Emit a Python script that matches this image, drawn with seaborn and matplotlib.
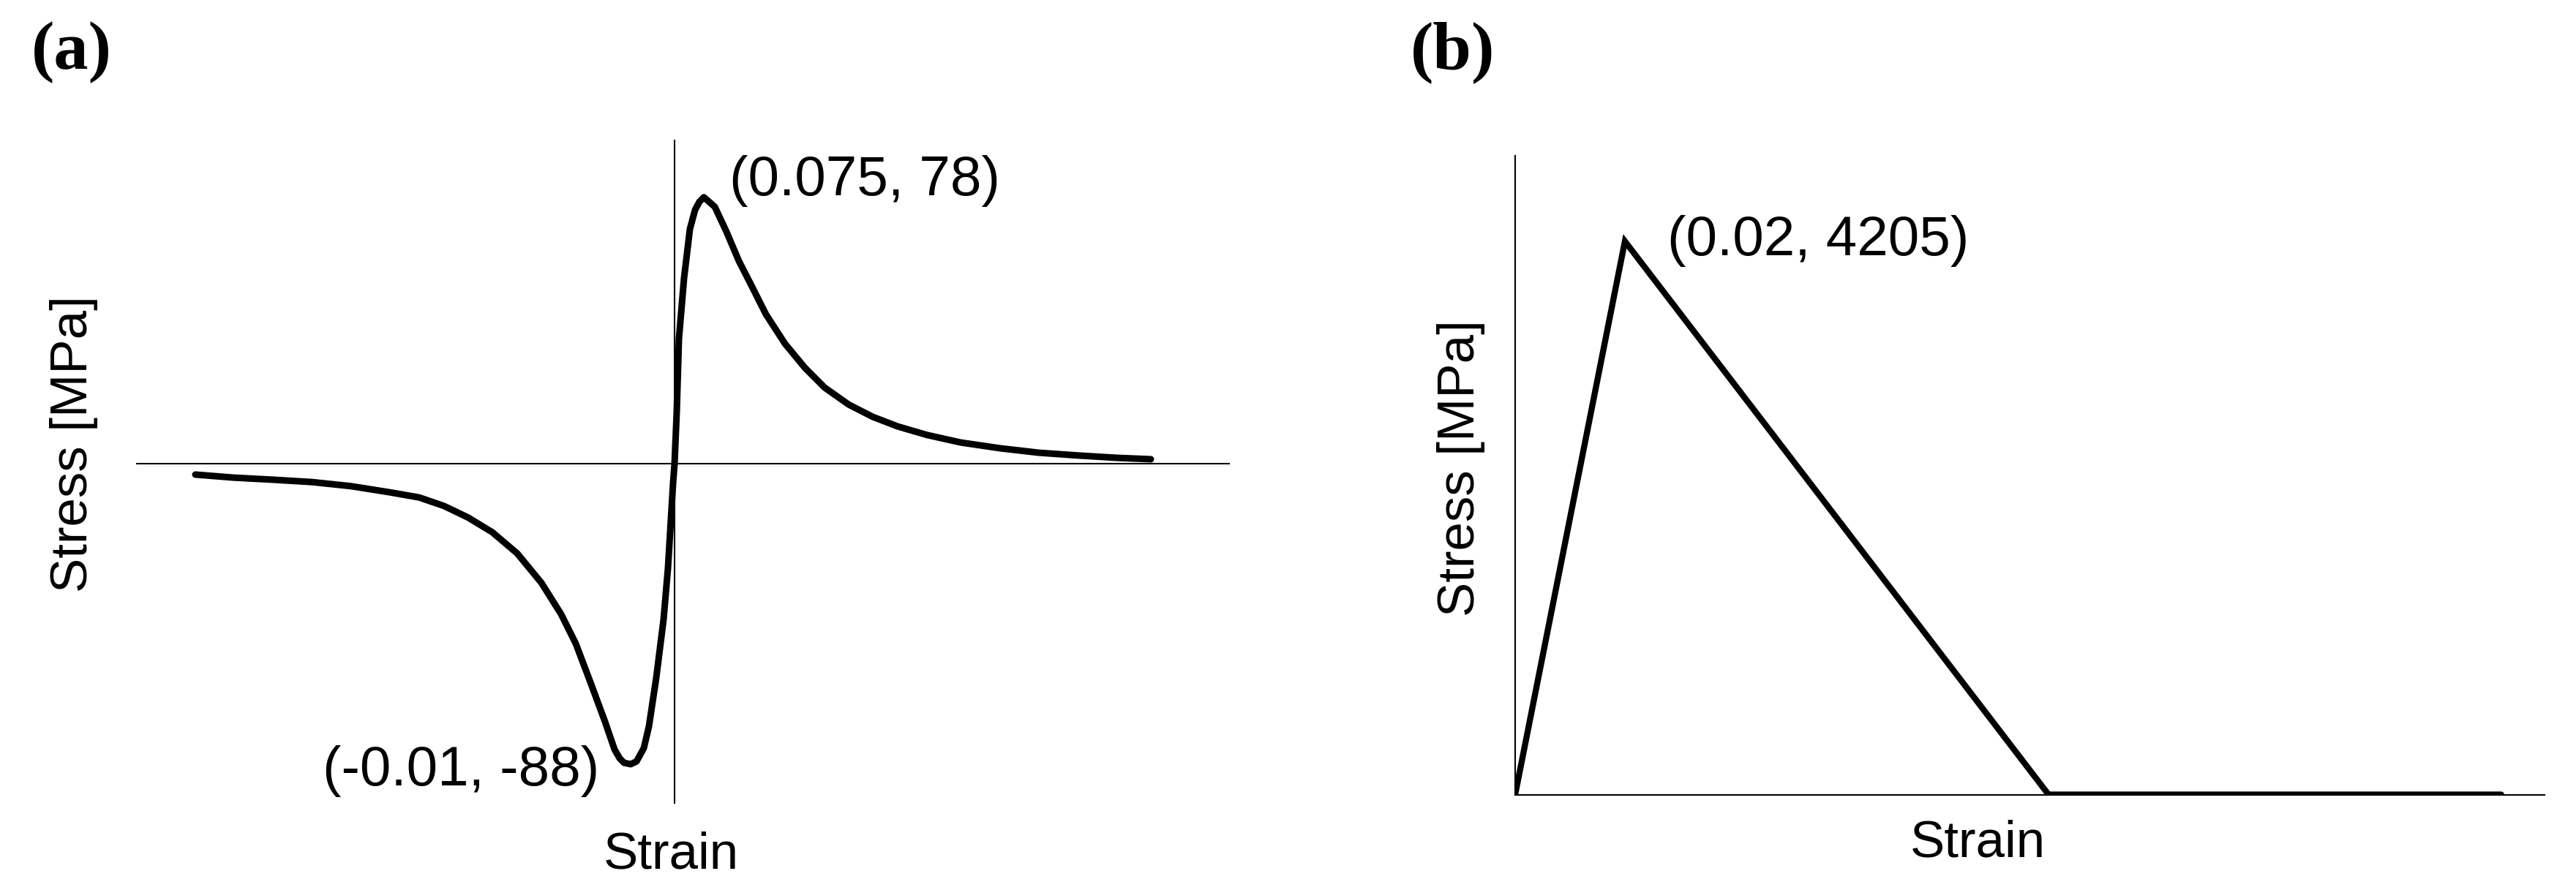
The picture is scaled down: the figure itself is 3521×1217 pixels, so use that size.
"""Curvas tensão-deformação esquemáticas: (a) sigmoide amortecida, (b) triangular."""

import matplotlib
matplotlib.use("Agg")
import matplotlib.pyplot as plt
import seaborn as sns

# (a) curva esquemática (deformação em unidades do esboço, tensão em MPa)
strain_a = [
    -0.10917, -0.10033, -0.09150, -0.08250, -0.07367, -0.06483, -0.05817,
    -0.05250, -0.04700, -0.04150, -0.03583, -0.03033, -0.02583, -0.02250,
    -0.01917, -0.01583, -0.01367, -0.01250, -0.01150, -0.01000, -0.00867,
    -0.00700, -0.00583, -0.00417, -0.00250, -0.00150, -0.00033, 0.0,
    0.00050, 0.00100, 0.00217, 0.00350, 0.00467, 0.00567, 0.00667, 0.00767,
    0.00917, 0.01183, 0.01467, 0.01750, 0.02083, 0.02517, 0.02967, 0.03417,
    0.03967, 0.04517, 0.05083, 0.05750, 0.06517, 0.07417, 0.08300, 0.09183,
    0.10083, 0.10850,
]
stress_a = [
    -3.2, -4.1, -4.7, -5.4, -6.6, -8.4, -9.9,
    -12.4, -15.8, -20.1, -26.3, -34.9, -44.1, -52.7,
    -64.0, -75.6, -83.7, -86.3, -87.6, -88.0, -87.2,
    -83.3, -76.9, -62.7, -45.6, -30.6, -5.6, 0.0,
    15.2, 36.6, 54.4, 68.7, 74.3, 76.7, 78.0, 76.9,
    75.2, 67.9, 59.3, 52.2, 43.7, 35.1, 28.1, 22.3,
    17.3, 13.7, 10.9, 8.4, 6.2, 4.5, 3.2, 2.4,
    1.7, 1.3,
]
peak_label_a = "(0.075, 78)"
trough_label_a = "(-0.01, -88)"

# (b) lei triangular
strain_b = [0.0, 0.02, 0.0972, 0.1797]
stress_b = [0.0, 4205.0, 0.0, 0.0]
peak_label_b = "(0.02, 4205)"

x_label = "Strain"
y_label = "Stress [MPa]"
panel_labels = ["(a)", "(b)"]

sns.set_style("white")
plt.rcParams["font.family"] = ["Liberation Sans", "DejaVu Sans"]
plt.rcParams["text.color"] = "black"

W, H = 3521, 1217
fig = plt.figure(figsize=(W / 100, H / 100), dpi=100)


def fx(px):
    return px / W


def fy(py):
    return 1 - py / H


# ---------------- painel (a) ----------------
ax_a = fig.add_axes([fx(187), fy(1098), fx(1680) - fx(187), fy(192) - fy(1098)])
sns.lineplot(x=strain_a, y=stress_a, ax=ax_a, color="black", linewidth=6.5,
             sort=False, estimator=None)
ax_a.set_xlim(-0.1225, 0.12633)
ax_a.set_ylim(-99.36, 94.65)
for side in ["top", "right"]:
    ax_a.spines[side].set_visible(False)
for side in ["left", "bottom"]:
    ax_a.spines[side].set_position(("data", 0))
    ax_a.spines[side].set_color("black")
    ax_a.spines[side].set_linewidth(1.5)
ax_a.set_xticks([])
ax_a.set_yticks([])
ax_a.set_xlabel("")
ax_a.set_ylabel("")
ax_a.text(0.0125, 82.7, peak_label_a, fontsize=55, ha="left", va="center")
ax_a.text(-0.01717, -90.1, trough_label_a, fontsize=55, ha="right", va="center")

# ---------------- painel (b) ----------------
ax_b = fig.add_axes([fx(2071), fy(1086.5), fx(3478) - fx(2071), fy(213) - fy(1086.5)])
sns.lineplot(x=strain_b, y=stress_b, ax=ax_b, color="black", linewidth=6.0,
             sort=False, estimator=None, solid_joinstyle="miter")
ax_b.set_xlim(0, 0.1876)
ax_b.set_ylim(0, 4855)
for side in ["top", "right"]:
    ax_b.spines[side].set_visible(False)
for side in ["left", "bottom"]:
    ax_b.spines[side].set_color("black")
    ax_b.spines[side].set_linewidth(1.5)
ax_b.set_xticks([])
ax_b.set_yticks([])
ax_b.set_xlabel("")
ax_b.set_ylabel("")
ax_b.text(0.02773, 4205, peak_label_b, fontsize=55, ha="left", va="center")

# rótulos dos eixos
fig.text(fx(917), fy(1187), x_label, fontsize=51, ha="center", va="baseline")
fig.text(fx(2703), fy(1172), x_label, fontsize=51, ha="center", va="baseline")
fig.text(fx(101), fy(607), y_label, fontsize=51, ha="center", va="center", rotation=90)
fig.text(fx(1997), fy(640), y_label, fontsize=51, ha="center", va="center", rotation=90)

# letras dos painéis
for label, px in zip(panel_labels, [43, 1928]):
    fig.text(fx(px), fy(94), label, fontsize=68, fontweight="bold",
             family="Liberation Serif", ha="left", va="baseline")

fig.savefig("out.png", dpi=100)
plt.close(fig)
